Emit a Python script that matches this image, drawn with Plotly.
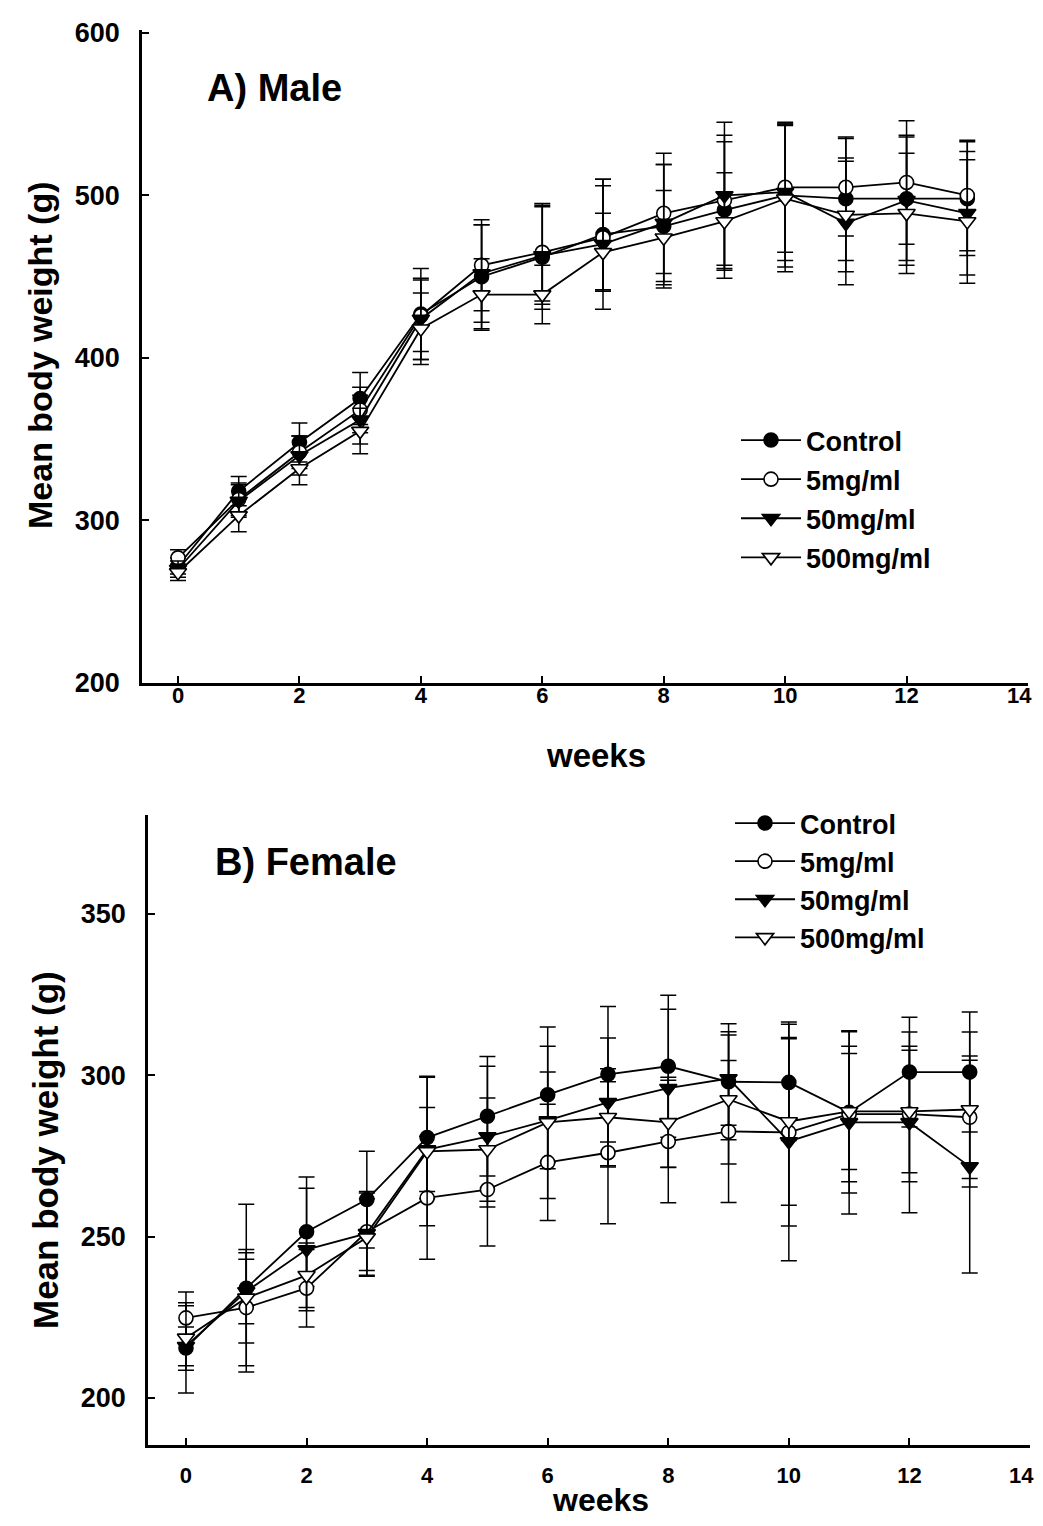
import plotly.graph_objects as go

weeks = list(range(14))
series_names = ["Control", "5mg/ml", "50mg/ml", "500mg/ml"]

# Male (A)
male_control = [272, 318, 348, 375, 427, 450, 462, 476, 481, 491, 500, 498, 498, 498]
male_5 = [277, 313, 342, 368, 426, 457, 465, 474, 489, 497, 505, 505, 508, 500]
male_50 = [270, 312, 340, 362, 424, 452, 463, 470, 483, 500, 502, 483, 497, 489]
male_500 = [268, 303, 332, 355, 418, 439, 439, 465, 474, 484, 498, 488, 489, 484]
male_control_err = [5, 9, 12, 16, 28, 32, 32, 34, 38, 42, 44, 38, 38, 35]
male_5_err = [5, 10, 10, 14, 22, 28, 30, 32, 37, 40, 40, 30, 38, 34]
male_50_err = [5, 10, 12, 15, 25, 30, 30, 40, 36, 45, 42, 38, 40, 38]
male_500_err = [5, 10, 10, 14, 22, 22, 18, 24, 29, 30, 45, 35, 37, 38]

# Female (B)
female_control = [215.5, 234, 251.5, 261.5, 280.7, 287.3, 294, 300.3, 302.8, 298, 297.8, 288.5, 301, 301]
female_5 = [224.8, 228, 234, 251.5, 262, 264.6, 273, 276, 279.5, 282.6, 282.3, 288, 288, 287]
female_50 = [216, 233, 246, 251, 277, 281, 286, 291.6, 296, 299, 279.5, 285.4, 285.4, 271.7]
female_500 = [218.6, 231, 238, 249.7, 276.4, 277, 285.4, 287, 285.4, 292.5, 285.7, 288.8, 288.8, 289.4]
female_control_err = [14, 26, 17, 15, 19, 18.5, 21, 21, 22, 18, 18, 25, 17, 18.6]
female_5_err = [8, 18, 12, 12, 19, 17.5, 18, 22, 19, 22, 29, 21, 21, 19]
female_50_err = [6, 10, 19, 13, 13, 21.8, 15, 20, 24.5, 14.5, 37, 28.4, 28, 33]
female_500_err = [10, 14, 10, 12, 23, 16, 23.6, 15, 14, 20, 26, 18, 19, 24]

x_ticks = [0, 2, 4, 6, 8, 10, 12, 14]
x_tick_labels = ["0", "2", "4", "6", "8", "10", "12", "14"]
male_y_ticks = [200, 300, 400, 500, 600]
female_y_ticks = [200, 250, 300, 350]

symbols = ["circle", "circle", "triangle-down", "triangle-down"]
fills = ["black", "white", "black", "white"]

# page has an 8px body margin, so the figure is 16px smaller than the window
OFF = 8
W, H = 1043 - 2 * OFF, 1526 - 2 * OFF
FONT = "Liberation Sans, Arial, sans-serif"

# the last x label sits at the very right edge: drawn separately, nudged inside
x_tick_text = x_tick_labels[:-1] + [""]

fig = go.Figure()

male = [(male_control, male_control_err), (male_5, male_5_err),
        (male_50, male_50_err), (male_500, male_500_err)]
female = [(female_control, female_control_err), (female_5, female_5_err),
          (female_50, female_50_err), (female_500, female_500_err)]

def add_panel(data, xa, ya, legend):
    for i, (vals, errs) in enumerate(data):
        sym = symbols[i]
        fig.add_trace(go.Scatter(
            x=weeks, y=vals, xaxis=xa, yaxis=ya,
            mode="lines+markers", name=series_names[i],
            legend=legend, legendgroup=legend + str(i),
            line=dict(color="black", width=1.8),
            marker=dict(symbol=sym, size=14 if sym == "circle" else 15,
                        color=fills[i], line=dict(color="black", width=1.6)),
            error_y=dict(type="data", array=errs, visible=True,
                         color="black", thickness=1.5, width=8),
        ))

add_panel(male, "x", "y", "legend")
add_panel(female, "x2", "y2", "legend2")

def px_x(p):
    return (p - OFF) / W

def px_y(p):
    return 1 - (p - OFF) / H

axis_common = dict(showline=True, linecolor="black", linewidth=2.5, ticks="inside",
                   tickcolor="black", ticklen=7, tickwidth=2, showgrid=False,
                   zeroline=False, mirror=False, automargin=False)

fig.update_layout(
    width=W, height=H, margin=dict(l=0, r=0, t=0, b=0, pad=0, autoexpand=False),
    paper_bgcolor="white", plot_bgcolor="white",
    font=dict(family=FONT, color="black"),
    xaxis=dict(domain=[px_x(142), px_x(1028)], range=[-0.593, 14], tickvals=x_ticks,
               ticktext=x_tick_text, anchor="y", ticklabelstandoff=-9,
               tickfont=dict(size=22, family=FONT, weight="bold"), **axis_common),
    yaxis=dict(domain=[px_y(683), px_y(30)], range=[200, 601.8], tickvals=male_y_ticks,
               anchor="x", ticklabelstandoff=14,
               tickfont=dict(size=27, family=FONT, weight="bold"), **axis_common),
    xaxis2=dict(domain=[px_x(148), px_x(1030)], range=[-0.63, 14], tickvals=x_ticks,
                ticktext=x_tick_text, anchor="y2", ticklabelstandoff=9,
                tickfont=dict(size=22, family=FONT, weight="bold"), **axis_common),
    yaxis2=dict(domain=[px_y(1445), px_y(815)], range=[185.4, 380.7], tickvals=female_y_ticks,
                anchor="x2", ticklabelstandoff=14,
                tickfont=dict(size=27, family=FONT, weight="bold"), **axis_common),
    legend=dict(x=px_x(736), y=px_y(416), xanchor="left", yanchor="top",
                font=dict(size=27, family=FONT, weight="bold"), itemwidth=60,
                tracegroupgap=1, bgcolor="rgba(0,0,0,0)"),
    legend2=dict(x=px_x(730), y=px_y(799), xanchor="left", yanchor="top",
                 font=dict(size=27, family=FONT, weight="bold"), itemwidth=60,
                 tracegroupgap=0, bgcolor="rgba(0,0,0,0)"),
    showlegend=True,
)

# last tick label of each x axis, placed at its tick value
for xref, ypix in (("x", 695), ("x2", 1475)):
    fig.add_annotation(text=x_tick_labels[-1], x=x_ticks[-1], xref=xref,
                       y=px_y(ypix), yref="paper", xanchor="right", yanchor="middle",
                       xshift=5, showarrow=False, borderpad=0,
                       font=dict(size=22, family=FONT, color="black", weight="bold"))

annos = [
    dict(text="A) Male", x=px_x(205), y=px_y(88), xanchor="left", yanchor="middle", size=38, angle=0),
    dict(text="B) Female", x=px_x(213), y=px_y(862), xanchor="left", yanchor="middle", size=38, angle=0),
    dict(text="weeks", x=px_x(596), y=px_y(755), xanchor="center", yanchor="middle", size=33, angle=0),
    dict(text="weeks", x=px_x(600), y=px_y(1500), xanchor="center", yanchor="middle", size=32, angle=0),
    dict(text="Mean body weight (g)", x=px_x(40), y=px_y(355), xanchor="center", yanchor="middle", size=34, angle=-90),
    dict(text="Mean body weight (g)", x=px_x(45), y=px_y(1150), xanchor="center", yanchor="middle", size=35, angle=-90),
]
for a in annos:
    fig.add_annotation(text=a["text"], x=a["x"], y=a["y"], xref="paper", yref="paper",
                       xanchor=a["xanchor"], yanchor=a["yanchor"], showarrow=False,
                       textangle=a["angle"],
                       font=dict(size=a["size"], family=FONT, color="black", weight="bold"))

fig.write_html("out.html")
